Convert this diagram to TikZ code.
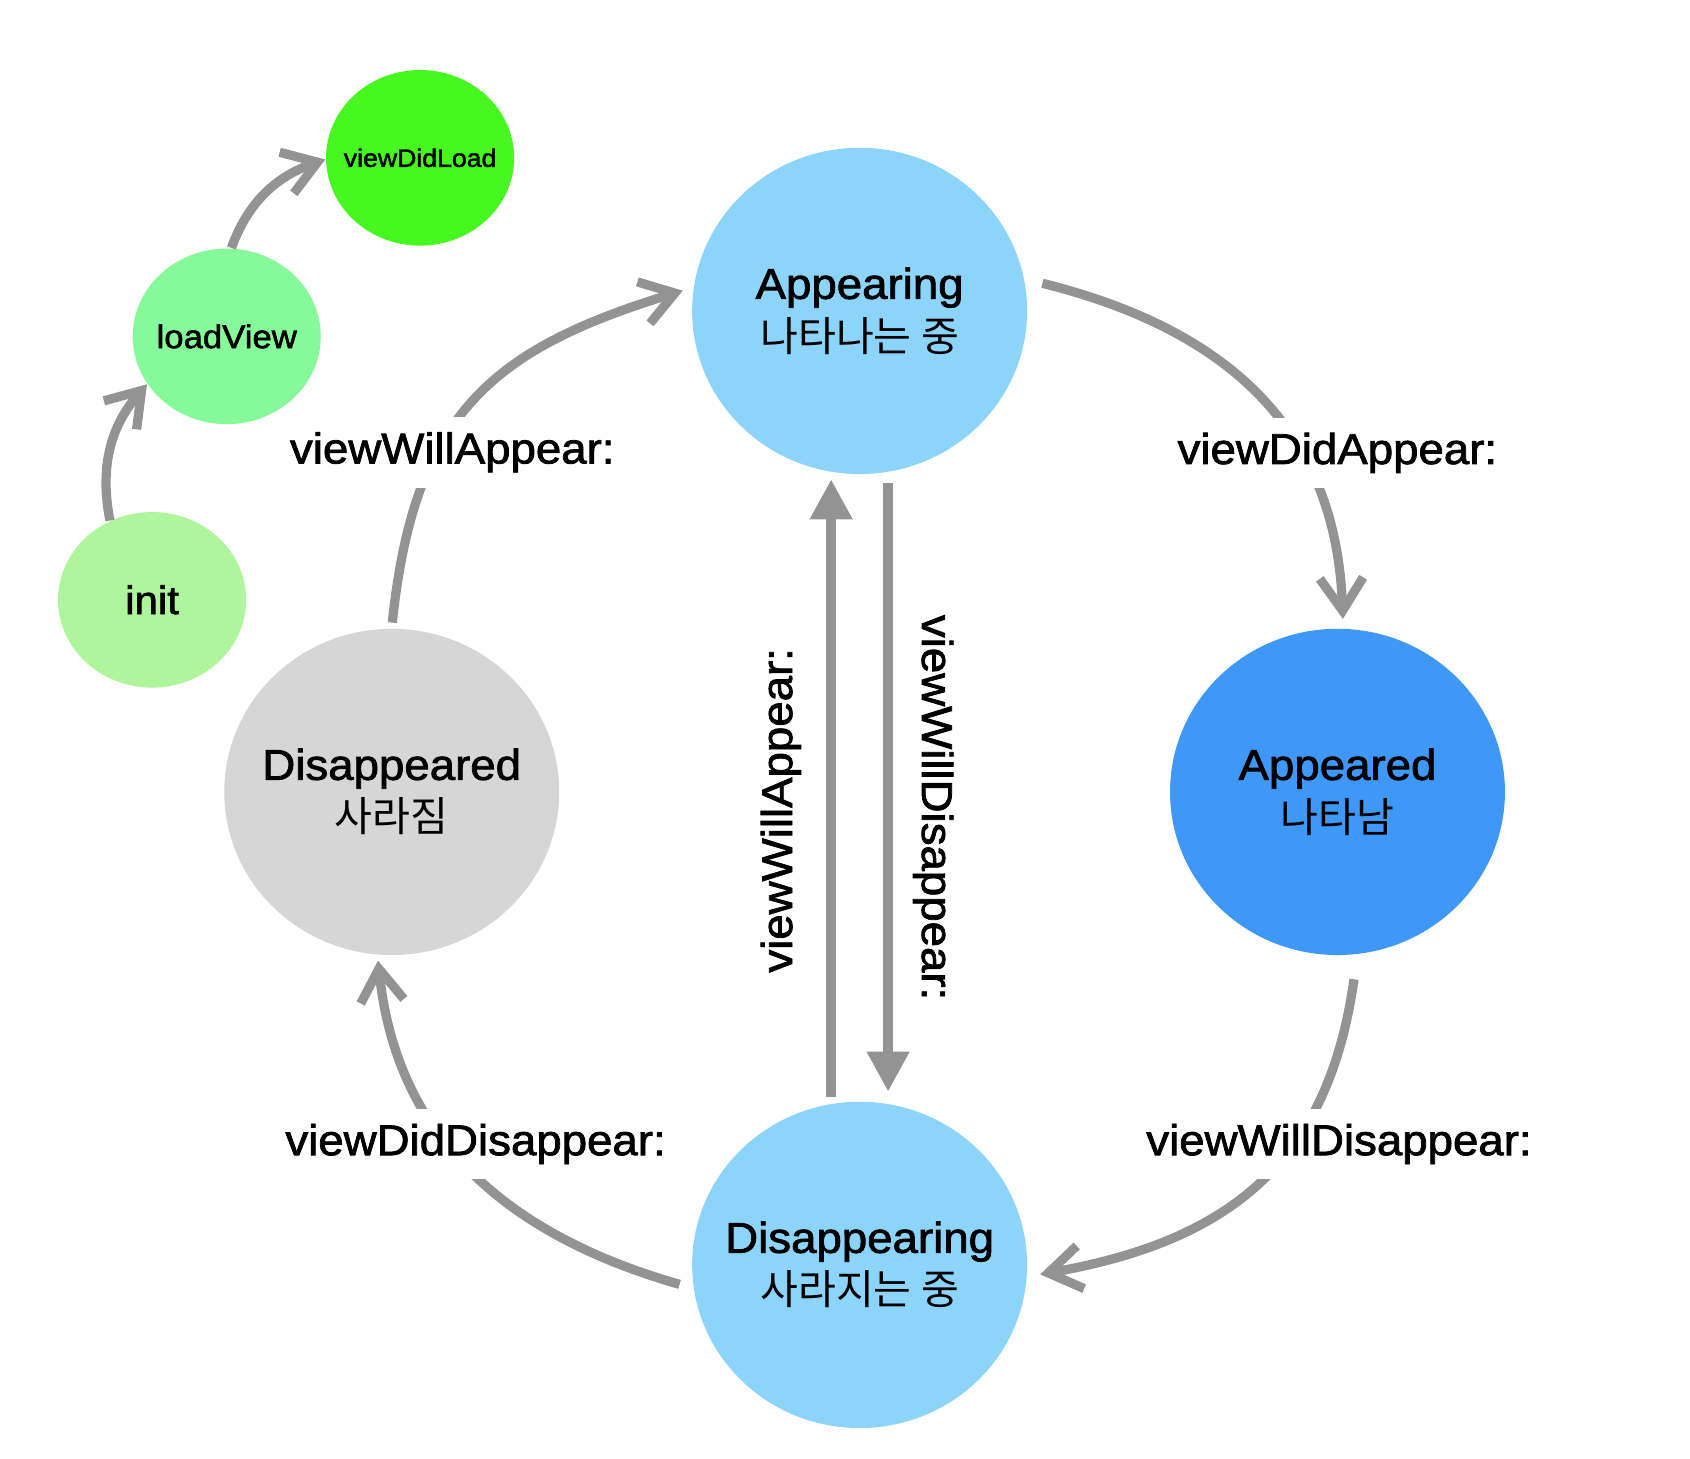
\documentclass[tikz,border=0pt]{standalone}
\usepackage{fontspec}
\setmainfont{Liberation Sans}[FakeStretch=1.06,FakeBold=1.8]
\newfontfamily\krfont{Noto Sans CJK KR}
\usetikzlibrary{shapes.geometric,arrows.meta}
\definecolor{arrgray}{HTML}{939393}
\definecolor{didload}{HTML}{46F81F}
\definecolor{loadv}{HTML}{86F99A}
\definecolor{initg}{HTML}{AEF59C}
\definecolor{lightblue}{HTML}{8DD4FA}
\definecolor{darkblue}{HTML}{3F98F7}
\definecolor{gonegray}{HTML}{D6D6D6}
\newcommand\krline[1]{{\krfont\fontsize{10.8}{13.7}\selectfont #1}}

\begin{document}
\begin{tikzpicture}[x=0.01cm,y=-0.01cm,
  state/.style={ellipse,minimum width=3.09cm,minimum height=3.01cm,inner sep=0pt},
  statetext/.style={align=center,inner sep=0pt,font=\fontsize{11.3}{13.7}\selectfont},
  small/.style={ellipse,minimum width=1.735cm,minimum height=1.62cm,inner sep=0pt},
  flow/.style={arrgray,line width=0.085cm,-{Straight Barb[length=0.3cm,width=0.4cm,sharp]}},
  vflow/.style={arrgray,line width=0.092cm,-{Triangle[length=0.37cm,width=0.37cm]}},
  lbl/.style={fill=white,inner xsep=0.04cm,inner ysep=0.14cm,font=\fontsize{11.3}{13.7}\selectfont}]
\useasboundingbox (0,0) rectangle (1560,1346);

  \node[small,fill=initg,label={[font=\fontsize{10.4}{12}\selectfont]center:init}] (init) at (140.4,553.7) {};
  \node[small,fill=loadv,label={[font=\fontsize{8.6}{11}\selectfont]center:loadView}] (lv) at (209.3,310.5) {};
  \node[small,fill=didload,label={[font=\fontsize{6.6}{8}\selectfont]center:viewDidLoad}] (vdl) at (387.8,145.7) {};

  \node[state,fill=lightblue,label={[statetext]center:{Appearing\\\krline{나타나는 중}}}] (app) at (793.5,287) {};
  \node[state,fill=darkblue,label={[statetext]center:{Appeared\\\krline{나타남}}}] (apd) at (1234.6,731) {};
  \node[state,fill=gonegray,label={[statetext]center:{Disappeared\\\krline{사라짐}}}] (dsp) at (361.6,731) {};
  \node[state,fill=lightblue,label={[statetext]center:{Disappearing\\\krline{사라지는 중}}}] (dis) at (793.5,1167.6) {};

  \draw[flow] (init.118) to[out=101,in=229] (lv.211);
  \draw[flow] (lv.87) to[out=70,in=199] (vdl.181);

  \draw[flow,shorten <=0.05cm,shorten >=0.1cm] (dsp.north) to[out=84,in=197,looseness=1.2] (app.172.5);
  \node[lbl] (wa) at (417.5,417.5) {viewWillAppear:};
  \draw[flow,shorten <=0.17cm,shorten >=0.085cm] (app.11.4) to[out=-14,in=92,looseness=1.1] (apd.88.4);
  \node[lbl] (da) at (1234.5,418) {viewDidAppear:};
  \draw[flow,shorten <=0.23cm,shorten >=0.12cm] (apd.-83.6) to[out=262,in=10,looseness=1.15] (dis.-4.6);
  \node[lbl] (wd) at (1236,1056) {viewWillDisappear:};
  \draw[flow,shorten <=0.13cm,shorten >=0.05cm] (dis.188.6) to[out=164,in=276,looseness=1.05] (dsp.265.2);
  \node[lbl] (dd) at (439,1056) {viewDidDisappear:};

  \draw[vflow,shorten <=0.06cm,shorten >=0.067cm] (dis.100.7) -- (dis.100.7 |- app.259.7);
  \node[lbl,fill=none,rotate=90] (vwa) at (720.8,748) {viewWillAppear:};
  \draw[vflow,shorten <=0.1cm,shorten >=0.117cm] (app.280.8) -- (app.280.8 |- dis.78.9);
  \node[lbl,fill=none,rotate=-90] (vwd) at (861.4,745.5) {viewWillDisappear:};
\end{tikzpicture}
\end{document}
